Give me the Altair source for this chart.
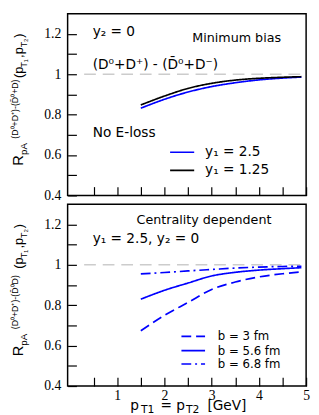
import altair as alt
import pandas as pd

# ---------------- data ----------------
pt = [1.5, 2.0, 2.5, 3.0, 3.5, 4.0, 4.5, 4.9]
top_y1_25 = [0.832, 0.876, 0.912, 0.939, 0.958, 0.972, 0.981, 0.986]
top_y1_125 = [0.848, 0.892, 0.930, 0.955, 0.971, 0.980, 0.985, 0.988]
bot_b3 = [0.674, 0.750, 0.814, 0.878, 0.915, 0.940, 0.956, 0.965]
bot_b56 = [0.830, 0.874, 0.910, 0.945, 0.963, 0.974, 0.981, 0.986]
bot_b68 = [0.955, 0.962, 0.970, 0.977, 0.984, 0.989, 0.992, 0.993]

top_series = ["y\u2081 = 2.5", "y\u2081 = 1.25"]
bot_series = ["b = 3 fm", "b = 5.6 fm", "b = 6.8 fm"]

y_ticks = [0.4, 0.5, 0.6, 0.7, 0.8, 0.9, 1.0, 1.1, 1.2]
x_ticks = [0.5, 1, 1.5, 2, 2.5, 3, 3.5, 4, 4.5, 5]

top_texts = ["y\u2082 = 0", "(D\u2070+D\u207a) - (D\u0304\u2070+D\u207b)", "No E-loss"]
top_right_text = "Minimum bias"
bot_texts = ["Centrality dependent", "y\u2081 = 2.5, y\u2082 = 0"]

ytitle_top = ["R", "pA", "(D\u2070+D\u207a)-(D\u0304\u2070+D)", "(p", "T\u2081", ",p", "T\u2082", ")"]
ytitle_bot = ["R", "pA", "(D\u2070+D\u207a)-(D\u0304\u2070D)", "(p", "T\u2081", ",p", "T\u2082", ")"]
xtitle = ["p", "T1", "= p", "T2", "[GeV]"]

# ---------------- layout / style ----------------
W, H = 244, 186
XD = [-0.05, 5.0]
YD = [0.4, 1.3]
TK = 9
BLUE = "#0000ff"
SANS = "DejaVu Sans"
SERIF = "Liberation Serif"

Y_LABEL = ("datum.value == 1 ? '1' : (datum.value == 0.4 || datum.value == 0.6 || "
           "datum.value == 0.8 || datum.value == 1.2) ? format(datum.value, '.1f') : ''")
X_LABEL = "datum.value % 1 == 0 ? format(datum.value, 'd') : ''"


def xenc(field, labels):
    ax = alt.Axis(values=x_ticks, ticks=True, tickSize=TK, offset=-TK, tickColor="black",
                  tickWidth=1.2, domain=False, grid=False, title=None, labels=labels,
                  labelFont=SERIF, labelFontSize=14, labelColor="black",
                  labelPadding=3, labelFlush=False, labelExpr=X_LABEL)
    return alt.X(field, type="quantitative",
                 scale=alt.Scale(domain=XD, nice=False, zero=False), axis=ax)


def yenc(field):
    return alt.Y(field, type="quantitative",
                 scale=alt.Scale(domain=YD, nice=False, zero=False),
                 axis=alt.Axis(values=y_ticks, ticks=True, tickSize=TK, offset=-TK,
                               tickColor="black", tickWidth=1.2, domain=False,
                               grid=False, title=None, labelFont=SERIF, labelFontSize=14,
                               labelColor="black", labelPadding=7, labelExpr=Y_LABEL))


def ref_line(labels):
    df = pd.DataFrame({"x": [0.3], "x2": [5.0], "y": [1.0]})
    return alt.Chart(df).mark_rule(color="#cccccc", strokeWidth=1.5, strokeDash=[12, 7]).encode(
        x=xenc("x", labels), x2="x2", y=yenc("y"))


def curves(series, values, colors, dashes, labels, leg_x, leg_x2, leg_y, leg_tx, leg_size):
    rows = []
    for s, vals in zip(series, values):
        for p, v in zip(pt, vals):
            rows.append({"s": s, "pt": p, "r": v})
    df = pd.DataFrame(rows)
    col = alt.Color("s:N", scale=alt.Scale(domain=series, range=colors), legend=None)
    dsh = alt.StrokeDash("s:N", scale=alt.Scale(domain=series, range=dashes), legend=None)
    lines = alt.Chart(df).mark_line(strokeWidth=1.7, interpolate="monotone").encode(
        x=xenc("pt", labels), y=yenc("r"), color=col, strokeDash=dsh, detail="s:N")
    ldf = pd.DataFrame({"s": series, "x": [leg_x] * len(series), "x2": [leg_x2] * len(series),
                        "y": leg_y, "tx": [leg_tx] * len(series)})
    leg = alt.Chart(ldf).mark_rule(strokeWidth=1.7).encode(
        x=xenc("x", labels), x2="x2", y=yenc("y"), color=col, strokeDash=dsh)
    legt = alt.Chart(ldf).mark_text(align="left", baseline="middle", font=SANS,
                                    fontSize=leg_size, color="black").encode(
        x=xenc("tx", labels), y=yenc("y"), text="s:N")
    return [lines, leg, legt]


def texts(strings, xs, ys, sizes, labels, align="left"):
    out = []
    for t, x, y, s in zip(strings, xs, ys, sizes):
        df = pd.DataFrame({"x": [x], "y": [y], "t": [t]})
        out.append(alt.Chart(df).mark_text(align=align, baseline="alphabetic", font=SANS,
                                           fontSize=s, color="black").encode(
            x=xenc("x", labels), y=yenc("y"), text="t:N"))
    return out


def ytitle(pieces):
    px = [-46, -42, -51, -46, -42, -46, -42, -46]
    py = [158, 147, 130, 67, 56, 46, 35, 25]
    sz = [15, 10, 9, 13, 9, 13, 9, 13]
    df = pd.DataFrame({"px": px, "py": [p * H / 189 for p in py], "t": pieces, "sz": sz})
    return alt.Chart(df).mark_text(angle=270, align="left", baseline="alphabetic",
                                   font="Liberation Sans", color="black").encode(
        x=alt.X("px:Q", scale=None), y=alt.Y("py:Q", scale=None), text="t:N",
        size=alt.Size("sz:Q", scale=None))


def xtitle_layer():
    px = [64, 75, 95, 121, 143]
    dy = [0, 4, 0, 4, 0]
    sz = [14, 11, 14, 11, 14]
    df = pd.DataFrame({"px": px, "py": [H + 24 + d for d in dy], "t": xtitle, "sz": sz})
    return alt.Chart(df).mark_text(align="left", baseline="alphabetic", font=SANS,
                                   color="black").encode(
        x=alt.X("px:Q", scale=None), y=alt.Y("py:Q", scale=None), text="t:N",
        size=alt.Size("sz:Q", scale=None))


# ---------------- top panel ----------------
top_layers = [ref_line(False)]
top_layers += curves(top_series, [top_y1_25, top_y1_125], [BLUE, "black"], [[1, 0], [1, 0]],
                     False, 2.12, 2.63, [0.614, 0.524], 2.86, 14)
top_layers += texts(top_texts, [0.48, 0.48, 0.48], [1.19, 1.024, 0.69], [14, 14, 14], False)
top_layers += texts([top_right_text], [4.47], [1.162], [13], False, align="right")
top_layers.append(ytitle(ytitle_top))
top = alt.layer(*top_layers).properties(width=W, height=H)

# ---------------- bottom panel ----------------
bot_layers = [ref_line(True)]
bot_layers += curves(bot_series, [bot_b3, bot_b56, bot_b68], [BLUE, BLUE, BLUE],
                     [[10, 5], [1, 0], [10, 4, 2, 4]],
                     True, 2.36, 2.86, [0.646, 0.575, 0.509], 3.13, 12)
bot_layers += texts(bot_texts, [1.41, 0.48], [1.2, 1.106], [13, 14], True)
bot_layers.append(ytitle(ytitle_bot))
bot_layers.append(xtitle_layer())
bottom = alt.layer(*bot_layers).properties(width=W, height=H)

chart = alt.vconcat(top, bottom, spacing=0).resolve_scale(
    color="independent", strokeDash="independent"
).properties(
    padding={"left": 2, "top": 0, "right": 0, "bottom": 1}
).configure_view(stroke="black", strokeWidth=1.5)

chart.save("out.html", embed_options={"renderer": "svg", "actions": False})
